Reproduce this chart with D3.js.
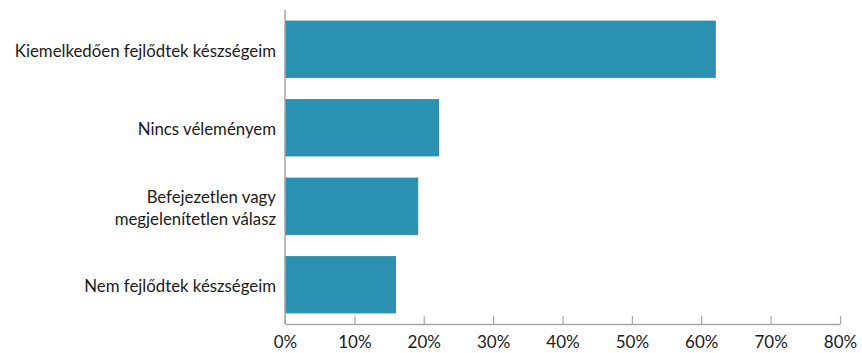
<!DOCTYPE html>
<html><head><meta charset="utf-8">
<script src="https://cdn.jsdelivr.net/npm/d3@7"></script>
<style>
html,body{margin:0;padding:0;background:#fff;}
svg text{font-family:Lato, "Open Sans", sans-serif;fill:#1a1a1a;}
</style></head>
<body><svg id="c" width="862" height="353"></svg>
<script>
const categories = ["Kiemelkedően fejlődtek készségeim", "Nincs véleményem", "Befejezetlen vagy|megjelenítetlen válasz", "Nem fejlődtek készségeim"];
const values = [62.1, 22.2, 19.2, 16.0];
const tickValues = [0, 10, 20, 30, 40, 50, 60, 70, 80];
const tickLabels = ["0%", "10%", "20%", "30%", "40%", "50%", "60%", "70%", "80%"];

const svg = d3.select("#c");
const mLeft = 285, mRight = 840, mTop = 10, mBottom = 324;
const x = d3.scaleLinear().domain([0, 80]).range([mLeft, mRight]);
const y = d3.scaleBand().domain(categories).range([mTop, mBottom]).paddingInner(0.27).paddingOuter(0.135);

svg.selectAll("rect.bar").data(categories).join("rect")
  .attr("class", "bar")
  .attr("x", x(0))
  .attr("y", d => y(d))
  .attr("width", (d, i) => x(values[i]) - x(0))
  .attr("height", y.bandwidth())
  .attr("fill", "#2b91b1");

// bottom axis
const gx = svg.append("g").attr("transform", `translate(0,${mBottom})`)
  .call(d3.axisBottom(x).tickValues(tickValues).tickFormat((d, i) => tickLabels[i]).tickSizeInner(-8).tickSizeOuter(0));
gx.select(".domain").attr("stroke", "#a6a6a6").attr("stroke-width", 1.5);
gx.selectAll(".tick line").attr("stroke", "#a6a6a6").attr("stroke-width", 1.2);
gx.selectAll(".tick text").attr("font-size", 17).attr("font-family", "Lato, sans-serif").attr("fill", "#1a1a1a").attr("y", 24).attr("dy", 0);

// left axis line
svg.append("line").attr("x1", mLeft).attr("x2", mLeft).attr("y1", mTop).attr("y2", mBottom)
  .attr("stroke", "#a6a6a6").attr("stroke-width", 1.5);

// category labels
const lab = svg.append("g").selectAll("text").data(categories).join("text")
  .attr("x", mLeft - 9)
  .attr("text-anchor", "end")
  .attr("font-size", 16.8)
  .attr("y", d => y(d) + y.bandwidth() / 2);
lab.each(function(d) {
  const lines = d.split("|");
  const t = d3.select(this);
  const lh = 22;
  lines.forEach((ln, i) => {
    t.append("tspan").attr("x", mLeft - 9)
      .attr("dy", i === 0 ? ((-(lines.length - 1) * lh / 2) + 7.5) + "px" : lh + "px")
      .text(ln);
  });
});
</script></body></html>
